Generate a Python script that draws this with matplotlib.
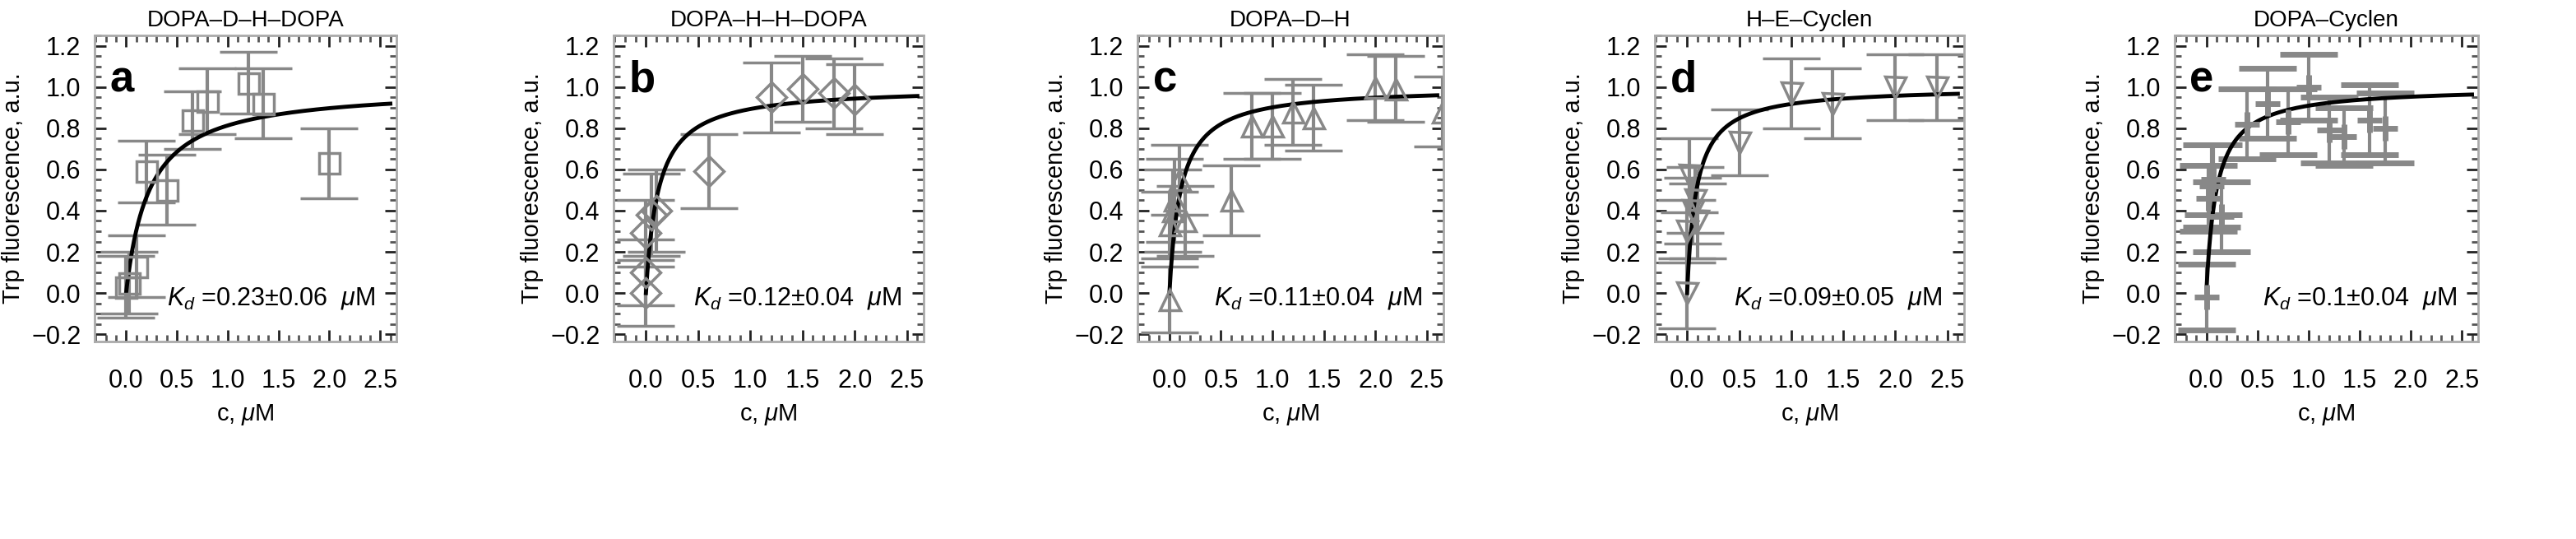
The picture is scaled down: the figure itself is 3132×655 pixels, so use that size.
import numpy as np
import matplotlib
matplotlib.use("Agg")
import matplotlib.pyplot as plt
from matplotlib.ticker import MultipleLocator, FuncFormatter

plt.rcParams['font.family'] = ['Liberation Sans', 'DejaVu Sans']
plt.rcParams['mathtext.fontset'] = 'custom'
plt.rcParams['mathtext.it'] = 'Liberation Sans:italic'
plt.rcParams['mathtext.rm'] = 'Liberation Sans'

titles = ["DOPA\u2013D\u2013H\u2013DOPA", "DOPA\u2013H\u2013H\u2013DOPA", "DOPA\u2013D\u2013H", "H\u2013E\u2013Cyclen", "DOPA\u2013Cyclen"]
letters = ["a", "b", "c", "d", "e"]
markers = ["s", "D", "^", "v", "+"]
kd_vals = [0.23, 0.12, 0.11, 0.09, 0.1]
kd_errs = ["0.06", "0.04", "0.04", "0.05", "0.04"]
kd_text = ["0.23", "0.12", "0.11", "0.09", "0.1"]
bmax = [1.0, 1.0, 1.0, 1.0, 1.0]

xa = [0.0, 0.03, 0.1, 0.2, 0.4, 0.65, 0.8, 1.2, 1.35, 2.0]
ya = [0.03, 0.05, 0.13, 0.59, 0.5, 0.84, 0.93, 1.02, 0.92, 0.63]
ea = [0.15, 0.15, 0.15, 0.15, 0.17, 0.14, 0.16, 0.15, 0.17, 0.17]

xb = [0.0, 0.0, 0.0, 0.05, 0.1, 0.6, 1.2, 1.5, 1.8, 2.0]
yb = [0.0, 0.1, 0.29, 0.38, 0.4, 0.59, 0.95, 0.99, 0.97, 0.94]
eb = [0.16, 0.16, 0.16, 0.2, 0.2, 0.18, 0.17, 0.16, 0.17, 0.17]

xc = [0.0, 0.0, 0.03, 0.05, 0.1, 0.15, 0.6, 0.8, 1.0, 1.2, 1.4, 2.0, 2.2, 2.65]
yc = [-0.03, 0.33, 0.4, 0.45, 0.55, 0.35, 0.45, 0.81, 0.81, 0.88, 0.85, 1.0, 0.99, 0.88]
ec = [0.16, 0.16, 0.2, 0.2, 0.17, 0.17, 0.17, 0.16, 0.16, 0.16, 0.16, 0.16, 0.16, 0.17]

xd = [0.0, 0.0, 0.02, 0.05, 0.08, 0.1, 0.5, 1.0, 1.4, 2.0, 2.4]
yd = [0.0, 0.3, 0.57, 0.4, 0.45, 0.35, 0.73, 0.97, 0.92, 1.0, 1.0]
ed = [0.17, 0.15, 0.18, 0.16, 0.16, 0.18, 0.16, 0.17, 0.17, 0.16, 0.16]

xe = [0.0, 0.02, 0.05, 0.07, 0.15, 0.4, 0.6, 0.8, 1.0, 1.2, 1.35, 1.6, 1.75]
ye = [-0.02, 0.46, 0.52, 0.55, 0.37, 0.82, 0.92, 0.83, 1.0, 0.79, 0.76, 0.84, 0.8]
ee = [0.16, 0.16, 0.2, 0.17, 0.17, 0.17, 0.17, 0.16, 0.16, 0.16, 0.14, 0.17, 0.17]

xs = [xa, xb, xc, xd, xe]
ys = [ya, yb, yc, yd, ye]
es = [ea, eb, ec, ed, ee]

fig = plt.figure(figsize=(31.32, 6.55), dpi=100)
lefts = [115, 746, 1383, 2012, 2644]
rights = [482, 1123, 1755, 2388, 3013]
W, H = 3132, 655
gray = '#888888'
fmt = FuncFormatter(lambda v, p: f"{v:.1f}".replace('-', '\u2212'))
for i in range(5):
    ax = fig.add_axes([lefts[i]/W, 1-415/H, (rights[i]-lefts[i])/W, 372/H])
    ax.errorbar(xs[i], ys[i], yerr=es[i], fmt=markers[i], mfc='none', mec=gray,
                color=gray, ecolor=gray, ms=18 if i != 4 else 22, mew=2.5 if i != 4 else 5,
                elinewidth=3, capsize=25, capthick=3)
    c = np.linspace(0, 2.6, 400)
    ax.plot(c, bmax[i]*c/(kd_vals[i]+c), color='black', lw=3.5)
    ax.set_xlim(-0.31, 2.66)
    ax.set_ylim(-0.235, 1.25)
    ax.xaxis.set_major_locator(MultipleLocator(0.5))
    ax.xaxis.set_minor_locator(MultipleLocator(0.1))
    ax.yaxis.set_major_locator(MultipleLocator(0.2))
    ax.yaxis.set_minor_locator(MultipleLocator(0.05))
    ax.tick_params(which='both', direction='in', top=True, right=True, labelsize=22)
    ax.tick_params(which='major', length=10, width=2, color='#222222')
    ax.tick_params(which='minor', length=6, width=2, color='#555555')
    ax.tick_params(axis='x', pad=24)
    ax.tick_params(axis='y', pad=12)
    for s in ax.spines.values():
        s.set_color('#aaaaaa'); s.set_linewidth(2)
    ax.xaxis.set_major_formatter(fmt)
    ax.yaxis.set_major_formatter(fmt)
    ax.set_title(titles[i], fontsize=20, pad=8)
    ax.set_xlabel(r"c, $\mu$M", fontsize=21, labelpad=8)
    ax.set_ylabel("Trp fluorescence, a.u.", fontsize=21, labelpad=6)
    ax.text(0.05, 0.92, letters[i], transform=ax.transAxes, fontsize=38, fontweight='bold', va='top')
    ax.text(0.93, 0.14, r"$K_d$ =" + kd_text[i] + "\u00b1" + kd_errs[i] + r"  $\mu$M",
            transform=ax.transAxes, fontsize=22, ha='right', va='center')

fig.savefig("out.png", dpi=100)
